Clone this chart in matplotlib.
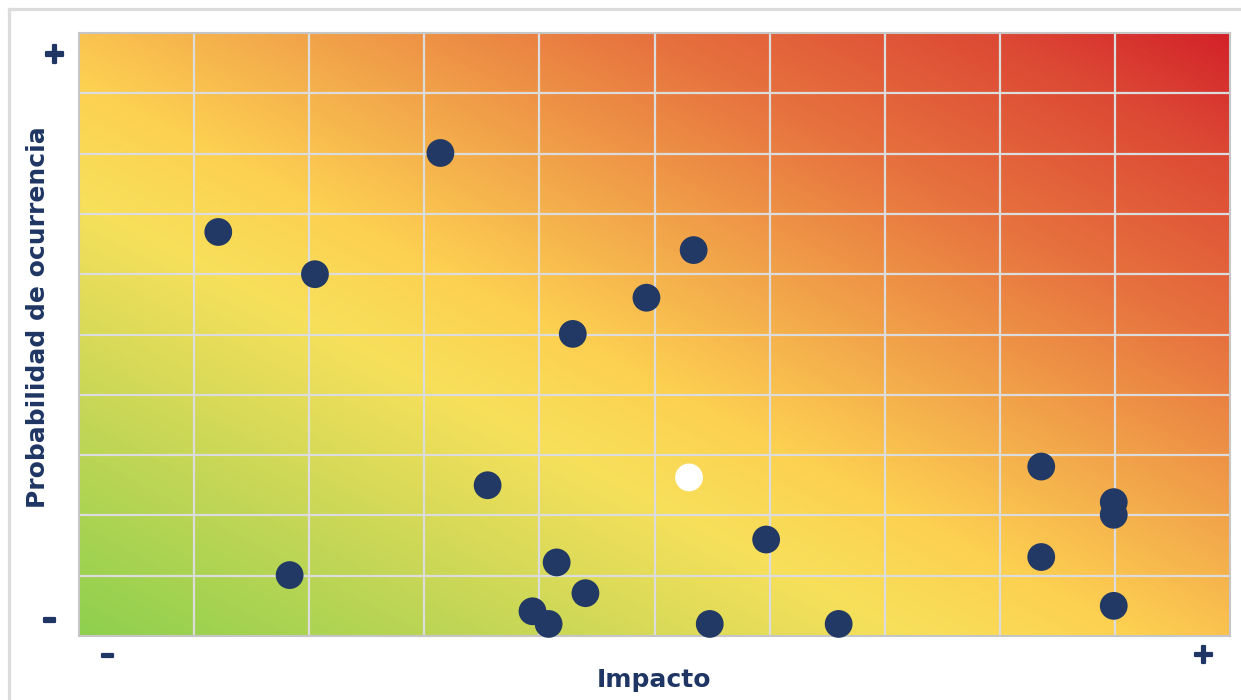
import numpy as np
import matplotlib
matplotlib.use("Agg")
import matplotlib.pyplot as plt
import matplotlib.patheffects as pe
from matplotlib.colors import LinearSegmentedColormap
from matplotlib.lines import Line2D

# ---- data (grid units 0..10 on both axes) ----
impact = [3.14, 1.21, 2.05, 5.34, 4.93, 4.29, 3.55, 8.36, 8.99, 8.99,
          5.97, 8.36, 1.83, 4.15, 4.40, 3.94, 4.08, 5.48, 6.60, 8.99]
probability = [8.01, 6.70, 6.00, 6.40, 5.61, 5.01, 2.50, 2.81, 2.22, 2.01,
               1.60, 1.31, 1.01, 1.22, 0.71, 0.41, 0.20, 0.20, 0.20, 0.50]
highlight_impact = [5.30]
highlight_probability = [2.63]

x_tick_labels = ["–", "+"]
y_tick_labels = ["–", "+"]
x_title = "Impacto"
y_title = "Probabilidad de ocurrencia"

NAVY = "#1f3664"
DOT = "#213964"

W, H = 1241, 700
fig = plt.figure(figsize=(W / 100, H / 100), dpi=100)
fig.patch.set_facecolor("white")

# outer light frame (left and top edges visible)
fig.add_artist(Line2D([9 / W, 9 / W], [0, 1 - 9 / H], transform=fig.transFigure,
                      color="#dcdcdc", lw=2.3))
fig.add_artist(Line2D([9 / W, 1], [1 - 9 / H, 1 - 9 / H], transform=fig.transFigure,
                      color="#dcdcdc", lw=2.3))

ax = fig.add_axes([79 / W, (H - 636) / H, 1151 / W, 603 / H])

# background gradient (to top right)
cmap = LinearSegmentedColormap.from_list("risk", [
    (0.00, "#8ed04e"),
    (0.18, "#c3d656"),
    (0.36, "#f7e05b"),
    (0.46, "#fdd051"),
    (0.58, "#f3a94b"),
    (0.74, "#e7733f"),
    (0.90, "#dc4834"),
    (1.00, "#d3222a"),
])
u = np.linspace(0, 1, 600)
v = np.linspace(0, 1, 400)
U, V = np.meshgrid(u, v)
T = (U + V) / 2
ax.imshow(cmap(T), extent=[0, 10, 0, 10], origin="lower", aspect="auto",
          interpolation="bilinear", zorder=0)

ax.set_xlim(0, 10)
ax.set_ylim(0, 10)

# grid
for k in range(1, 10):
    ax.axvline(k, color="#dcdcdc", lw=1.6, zorder=1)
    ax.axhline(k, color="#dcdcdc", lw=1.6, zorder=1)

for s in ax.spines.values():
    s.set_color("#c6c6c6")
    s.set_linewidth(1.5)

ax.set_xticks([])
ax.set_yticks([])

ax.scatter(impact, probability, s=400, color=DOT, edgecolors="none", zorder=3, clip_on=False)
ax.scatter(highlight_impact, highlight_probability, s=400, color="white",
           edgecolors="none", zorder=3, clip_on=False)

font = "DejaVu Sans"
thick = [pe.withStroke(linewidth=1.6, foreground=NAVY)]
# tick-like labels
ax.text(0.25, -0.32, x_tick_labels[0], ha="center", va="center", fontsize=20,
        fontweight="bold", color=NAVY, family=font, path_effects=thick)
ax.text(9.77, -0.32, x_tick_labels[1], ha="center", va="center", fontsize=20,
        fontweight="bold", color=NAVY, family=font, path_effects=thick)
ax.text(-0.26, 0.27, y_tick_labels[0], ha="center", va="center", fontsize=20,
        fontweight="bold", color=NAVY, family=font, path_effects=thick)
ax.text(-0.21, 9.64, y_tick_labels[1], ha="center", va="center", fontsize=20,
        fontweight="bold", color=NAVY, family=font, path_effects=thick)

fig.text(654 / W, 1 - 680 / H, x_title, ha="center", va="center", fontsize=18,
         fontweight="bold", color=NAVY, family=font)
fig.text(38 / W, 1 - 317 / H, y_title, ha="center", va="center", rotation=90,
         fontsize=18, fontweight="bold", color=NAVY, family=font)

fig.savefig("out.png", dpi=100)
